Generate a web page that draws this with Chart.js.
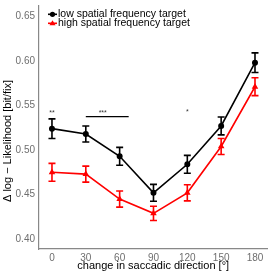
<!DOCTYPE html>
<html>
<head>
<meta charset="utf-8">
<script src="https://cdn.jsdelivr.net/npm/chart.js@4/dist/chart.umd.min.js"></script>
<style>
  html, body { margin: 0; padding: 0; background: #fff; }
  #wrap { width: 273px; height: 273px; }
</style>
</head>
<body>
<div id="wrap"><canvas id="chart" width="273" height="273"></canvas></div>
<script>
// data
const angles = [0, 30, 60, 90, 120, 150, 180];
const lowMean = [0.524, 0.518, 0.493, 0.452, 0.484, 0.527, 0.598];
const lowErr = [0.011, 0.009, 0.010, 0.0095, 0.010, 0.010, 0.011];
const highMean = [0.475, 0.473, 0.445, 0.429, 0.452, 0.504, 0.571];
const highErr = [0.010, 0.009, 0.009, 0.008, 0.009, 0.009, 0.010];
const yTicks = [0.40, 0.45, 0.50, 0.55, 0.60, 0.65];
const seriesNames = ['low spatial frequency target', 'high spatial frequency target'];
const yTitle = 'Δ log − Likelihood [bit/fix]';
// significance marks: [x, y, text]
const marks = [[0, 0.5415, '**'], [45, 0.5415, '***'], [120, 0.5425, '*']];
const sigLine = [30, 68, 0.5375];

const FONT = '"Liberation Sans", Arial, sans-serif';

// error bars drawn with the scales
const errorBars = {
    id: 'errorBars',
    afterDatasetsDraw(chart) {
        const ctx = chart.ctx;
        const xs = chart.scales.x, ys = chart.scales.y;
        chart.data.datasets.forEach(ds => {
            ctx.save();
            ctx.strokeStyle = ds.borderColor;
            ctx.lineWidth = 1.6;
            ds.data.forEach((p, i) => {
                const x = xs.getPixelForValue(p.x);
                const y1 = ys.getPixelForValue(p.y + ds.err[i]);
                const y2 = ys.getPixelForValue(p.y - ds.err[i]);
                ctx.beginPath();
                ctx.moveTo(x, y1); ctx.lineTo(x, y2);
                ctx.moveTo(x - 3.5, y1); ctx.lineTo(x + 3.5, y1);
                ctx.moveTo(x - 3.5, y2); ctx.lineTo(x + 3.5, y2);
                ctx.stroke();
            });
            ctx.restore();
        });
    }
};

// legend, y title and significance stars
const extras = {
    id: 'extras',
    afterDraw(chart) {
        const ctx = chart.ctx;
        const xs = chart.scales.x, ys = chart.scales.y;
        ctx.save();
        // stars
        ctx.fillStyle = '#333';
        ctx.font = '7px ' + FONT;
        ctx.textAlign = 'center';
        ctx.textBaseline = 'middle';
        marks.forEach(m => ctx.fillText(m[2], xs.getPixelForValue(m[0]), ys.getPixelForValue(m[1])));
        ctx.strokeStyle = '#000';
        ctx.lineWidth = 1.2;
        ctx.beginPath();
        ctx.moveTo(xs.getPixelForValue(sigLine[0]), ys.getPixelForValue(sigLine[2]));
        ctx.lineTo(xs.getPixelForValue(sigLine[1]), ys.getPixelForValue(sigLine[2]));
        ctx.stroke();
        // y title
        ctx.save();
        ctx.translate(7.5, 141);
        ctx.rotate(-Math.PI / 2);
        ctx.fillStyle = '#000';
        ctx.font = '11px ' + FONT;
        ctx.fillText(yTitle, 0, 0);
        ctx.restore();
        // legend
        ctx.font = '10.5px ' + FONT;
        ctx.textAlign = 'left';
        chart.data.datasets.forEach((ds, i) => {
            const y = 14.3 + i * 9;
            ctx.strokeStyle = ds.borderColor;
            ctx.fillStyle = ds.borderColor;
            ctx.lineWidth = 1.6;
            ctx.beginPath();
            ctx.moveTo(48, y); ctx.lineTo(57, y);
            ctx.stroke();
            ctx.beginPath();
            if (i === 0) {
                ctx.arc(52.5, y, 2.6, 0, Math.PI * 2);
            } else {
                ctx.moveTo(52.5, y - 3); ctx.lineTo(55.5, y + 2); ctx.lineTo(49.5, y + 2); ctx.closePath();
            }
            ctx.fill();
            ctx.fillStyle = '#000';
            ctx.fillText(seriesNames[i], 58, y);
        });
        ctx.restore();
    }
};

function points(means) {
    return angles.map((a, i) => ({ x: a, y: means[i] }));
}

new Chart(document.getElementById('chart'), {
    type: 'line',
    data: {
        datasets: [{
            label: seriesNames[0],
            data: points(lowMean),
            err: lowErr,
            borderColor: '#000000',
            backgroundColor: '#000000',
            borderWidth: 1.6,
            pointRadius: 2.2,
            pointStyle: 'circle',
            tension: 0
        }, {
            label: seriesNames[1],
            data: points(highMean),
            err: highErr,
            borderColor: '#ff0000',
            backgroundColor: '#ff0000',
            borderWidth: 1.6,
            pointRadius: 2.2,
            pointStyle: 'triangle',
            tension: 0
        }]
    },
    options: {
        responsive: false,
        animation: false,
        layout: { padding: { top: 3, right: 3, left: 0, bottom: 0 } },
        plugins: { legend: { display: false }, tooltip: { enabled: false } },
        scales: {
            x: {
                type: 'linear',
                min: -11.5,
                max: 191,
                afterBuildTicks: s => { s.ticks = angles.map(v => ({ value: v })); },
                afterFit: s => { s.height = 24; s.paddingLeft = 0; s.paddingRight = 0; },
                grid: { display: false, drawTicks: false },
                border: { display: true, color: '#888888', width: 1.2 },
                ticks: { color: '#6e6e6e', font: { family: FONT, size: 10 }, padding: 3, maxRotation: 0 },
                title: { display: true, text: 'change in saccadic direction [°]', color: '#000',
                         font: { family: FONT, size: 11 }, padding: { top: 0, bottom: 0 } }
            },
            y: {
                min: 0.389,
                max: 0.662,
                afterBuildTicks: s => { s.ticks = yTicks.map(v => ({ value: v })); },
                afterFit: s => { s.width = 39; s.paddingTop = 0; s.paddingBottom = 0; },
                grid: { display: false, drawTicks: false },
                border: { display: true, color: '#888888', width: 1.2 },
                ticks: { color: '#6e6e6e', font: { family: FONT, size: 10 }, padding: 4,
                         callback: v => v.toFixed(2) }
            }
        }
    },
    plugins: [errorBars, extras]
});
</script>
</body>
</html>
